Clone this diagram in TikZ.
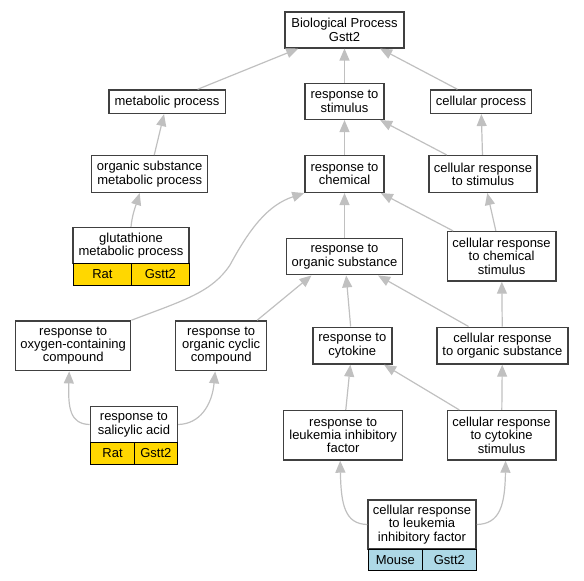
\documentclass[tikz,border=0pt]{standalone}
\usepackage{fontspec}
\setmainfont{Liberation Sans}
\usetikzlibrary{arrows.meta}

\definecolor{edgegray}{RGB}{192,192,192}
\definecolor{boxgray}{RGB}{64,64,64}
\definecolor{ratgold}{RGB}{255,215,0}
\definecolor{mouseblue}{RGB}{173,216,230}

\tikzset{
  term/.style={draw=boxgray, line width=1.5pt, fill=white, align=center,
    inner sep=0pt, font=\fontsize{13}{13.3}\selectfont},
  cell/.style={draw=black, line width=1pt, inner sep=0pt, minimum height=21.7pt,
    font=\fontsize{13}{13.3}\selectfont},
  edge/.style={draw=edgegray, line width=1.2pt,
    -{Triangle[length=12pt,width=10pt]}}
}

\begin{document}
\begin{tikzpicture}[x=1pt,y=-1pt]
\useasboundingbox (0,0) rectangle (584,581);

% top levels
\node[term, minimum width=119pt, minimum height=36pt] (bp) at (344.5,29.8) {Biological Process\\Gstt2};
\node[term, minimum width=116.5pt, minimum height=23.3pt] (mp) at (167,101.7) {metabolic process};
\node[term, minimum width=79pt, minimum height=36pt] (rs) at (344.5,101.3) {response to\\stimulus};
\node[term, minimum width=101pt, minimum height=23.3pt] (cp) at (481,101.7) {cellular process};

\node[term, minimum width=116pt, minimum height=36.6pt] (osmp) at (149.7,174) {organic substance\\metabolic process};
\node[term, minimum width=79pt, minimum height=36.6pt] (rc) at (344.5,174) {response to\\chemical};
\node[term, minimum width=108pt, minimum height=36.6pt] (crs) at (483,174) {cellular response\\to stimulus};

% glutathione (Rat)
\node[term, minimum width=116pt, minimum height=36pt] (glu) at (131,245.7) {glutathione\\metabolic process};
\node[cell, fill=ratgold, minimum width=58.8pt] (glurat) at (102.4,274.5) {Rat};
\node[cell, fill=ratgold, minimum width=57.2pt] (glugene) at (160.4,274.5) {Gstt2};

\node[term, minimum width=116pt, minimum height=36.4pt] (ros) at (344.5,256.5) {response to\\organic substance};
\node[term, minimum width=108.7pt, minimum height=49.3pt] (ccs) at (501.6,256.3) {cellular response\\to chemical\\stimulus};

\node[term, minimum width=115pt, minimum height=49.7pt] (oxy) at (73.2,345.8) {response to\\oxygen-containing\\compound};
\node[term, minimum width=91pt, minimum height=49.7pt] (roc) at (221.2,345.8) {response to\\organic cyclic\\compound};
\node[term, minimum width=79pt, minimum height=36.7pt] (rcy) at (352.3,345.6) {response to\\cytokine};
\node[term, minimum width=131pt, minimum height=36.7pt] (cros) at (502.4,345.6) {cellular response\\to organic substance};

% salicylic acid (Rat)
\node[term, minimum width=87pt, minimum height=35.6pt] (sal) at (133.9,424.5) {response to\\salicylic acid};
\node[cell, fill=ratgold, minimum width=44pt] (salrat) at (112.5,453.15) {Rat};
\node[cell, fill=ratgold, minimum width=42.8pt] (salgene) at (155.9,453.15) {Gstt2};

\node[term, minimum width=119pt, minimum height=49.3pt] (lif) at (343.2,435.3) {response to\\leukemia inhibitory\\factor};
\node[term, minimum width=108.7pt, minimum height=49.3pt] (crcs) at (501.6,435.3) {cellular response\\to cytokine\\stimulus};

% leukemia inhibitory factor (Mouse)
\node[term, minimum width=108pt, minimum height=49pt] (crl) at (422,524.5) {cellular response\\to leukemia\\inhibitory factor};
\node[cell, fill=mouseblue, minimum width=54.7pt] (crlmouse) at (395.35,559.85) {Mouse};
\node[cell, fill=mouseblue, minimum width=53.3pt] (crlgene) at (449.35,559.85) {Gstt2};

% edges
\draw[edge] (mp) -- (bp);
\draw[edge] (rs) -- (bp);
\draw[edge] (cp) -- (bp);
\draw[edge] (osmp) -- (mp);
\draw[edge] (rc) -- (rs);
\draw[edge] (crs) -- (rs);
\draw[edge] (crs) -- (cp);
\draw[edge] (glu.north) .. controls (132,215) and (136,205) .. ([xshift=-10pt]osmp.south);
\draw[edge] (ros) -- (rc);
\draw[edge] (ccs) -- (rc);
\draw[edge] (ccs) -- (crs);
\draw[edge] (oxy.north east) .. controls (185,300) and (212,292) .. (230,265)
  .. controls (250,228) and (268,205) .. (rc.south west);
\draw[edge] ([xshift=36pt]roc.north) -- ([xshift=-33pt]ros.south);
\draw[edge] (rcy) -- (ros);
\draw[edge] (cros) -- (ros);
\draw[edge] (cros) -- (ccs);
\draw[edge] (sal.west) .. controls (70,424) and (68,408) .. ([xshift=-4pt]oxy.south);
\draw[edge] (sal.east) .. controls (200,424) and (212,405) .. ([xshift=-6pt]roc.south);
\draw[edge] (lif) -- (rcy);
\draw[edge] (crcs) -- (rcy);
\draw[edge] (crcs) -- (cros);
\draw[edge] (crl.west) .. controls (345,524) and (341,505) .. ([xshift=-3pt]lif.south);
\draw[edge] (crl.east) .. controls (500,524) and (505,505) .. ([xshift=4pt]crcs.south);

\end{tikzpicture}
\end{document}
